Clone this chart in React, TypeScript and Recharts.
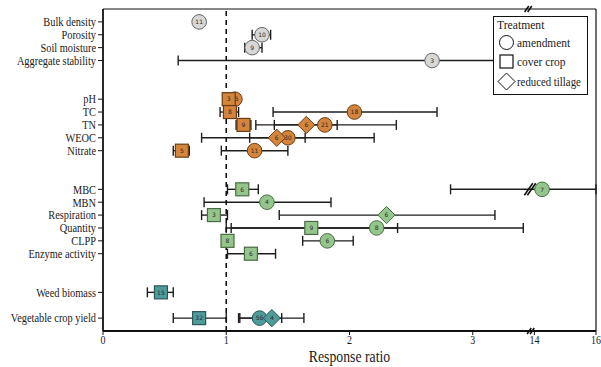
import { ErrorBar, ReferenceDot, ReferenceLine, Scatter, ScatterChart, XAxis, YAxis } from "recharts";

// rows of the forest plot, top to bottom (blank rows between groups)
const ROW_NAMES = [
  "Bulk density", "Porosity", "Soil moisture", "Aggregate stability",
  "pH", "TC", "TN", "WEOC", "Nitrate",
  "MBC", "MBN", "Respiration", "Quantity", "CLPP", "Enzyme activity",
  "Weed biomass", "Vegetable crop yield",
];
const ROW_POS = [0, 1, 2, 3, 6, 7, 8, 9, 10, 13, 14, 15, 16, 17, 18, 21, 23];
const ROW_GROUP = [
  "physical", "physical", "physical", "physical",
  "chemical", "chemical", "chemical", "chemical", "chemical",
  "biological", "biological", "biological", "biological", "biological", "biological",
  "crop", "crop",
];

const GROUP_FILL: Record<string, string> = {
  physical: "#d7d7d7",
  chemical: "#d4843b",
  biological: "#94c68c",
  crop: "#4e9b9a",
};
const GROUP_STROKE: Record<string, string> = {
  physical: "#666",
  chemical: "#6a3e16",
  biological: "#4a6c45",
  crop: "#2a5757",
};

// amendment (circles)
const AMEND_ROWS = ["Bulk density", "Porosity", "Soil moisture", "Aggregate stability", "pH", "TC", "TN", "WEOC", "Nitrate", "MBC", "MBN", "Quantity", "CLPP", "Vegetable crop yield"];
const AMEND_RR = [0.78, 1.29, 1.21, 2.67, 1.07, 2.04, 1.8, 1.5, 1.23, 14.25, 1.33, 2.22, 1.82, 1.27];
const AMEND_LO = [0.77, 1.21, 1.15, 0.61, 1.0, 1.38, 1.24, 0.8, 0.96, 2.82, 0.82, 1.04, 1.62, 1.1];
const AMEND_HI = [0.79, 1.36, 1.29, 3.3, 1.1, 2.71, 2.38, 2.2, 1.5, 16, 1.85, 3.41, 2.03, 1.45];
const AMEND_N = [11, 10, 9, 3, 35, 18, 21, 30, 11, 7, 4, 8, 6, 56];

// cover crop (squares)
const COVER_ROWS = ["pH", "TC", "TN", "Nitrate", "MBC", "Respiration", "Quantity", "CLPP", "Enzyme activity", "Weed biomass", "Vegetable crop yield"];
const COVER_RR = [1.02, 1.03, 1.14, 0.64, 1.13, 0.9, 1.69, 1.01, 1.2, 0.47, 0.78];
const COVER_LO = [0.99, 0.95, 1.08, 0.57, 1.01, 0.8, 1.0, 0.99, 1.01, 0.36, 0.57];
const COVER_HI = [1.05, 1.1, 1.2, 0.7, 1.26, 1.01, 2.39, 1.02, 1.4, 0.57, 1.0];
const COVER_N = [3, 8, 9, 5, 6, 3, 9, 8, 6, 15, 32];

// reduced tillage (diamonds)
const TILL_ROWS = ["TN", "WEOC", "Respiration", "Vegetable crop yield"];
const TILL_RR = [1.65, 1.41, 2.3, 1.37];
const TILL_LO = [1.39, 1.19, 1.43, 1.11];
const TILL_HI = [1.9, 1.64, 3.18, 1.63];
const TILL_N = [6, 6, 6, 4];

const X_TICKS = [0, 1, 2, 3, 3.5, 4];
const X_TICK_LABELS = ["0", "1", "2", "3", "14", "16"];

// broken axis: 0-3 linear, then 12-16 squeezed into the last unit
const toAxis = (v: number) => (v < 10 ? v : 3 + (v - 12) / 4);

type Pt = { x: number; y: number; err: [number, number]; n: number; group: string; kind: string };

function buildPoints(kind: string, rows: string[], rr: number[], lo: number[], hi: number[], n: number[]): Pt[] {
  return rows.map((name, i) => {
    const idx = ROW_NAMES.indexOf(name);
    const x = toAxis(rr[i]);
    return {
      x,
      y: ROW_POS[idx],
      err: [x - toAxis(lo[i]), toAxis(hi[i]) - x],
      n: n[i],
      group: ROW_GROUP[idx],
      kind,
    };
  });
}

const amendPts = buildPoints("circle", AMEND_ROWS, AMEND_RR, AMEND_LO, AMEND_HI, AMEND_N);
const coverPts = buildPoints("square", COVER_ROWS, COVER_RR, COVER_LO, COVER_HI, COVER_N);
const tillPts = buildPoints("diamond", TILL_ROWS, TILL_RR, TILL_LO, TILL_HI, TILL_N);
const allPts = [...amendPts, ...coverPts, ...tillPts];

const SERIF = "Liberation Serif";

function Marker(props: any) {
  const { cx, cy, payload } = props;
  const fill = GROUP_FILL[payload.group];
  const stroke = GROUP_STROKE[payload.group];
  let mark;
  if (payload.kind === "circle") {
    mark = <circle cx={cx} cy={cy} r={7.3} fill={fill} stroke={stroke} strokeWidth={1} />;
  } else if (payload.kind === "square") {
    mark = <rect x={cx - 6.5} y={cy - 6.5} width={13} height={13} fill={fill} stroke={stroke} strokeWidth={1.2} />;
  } else {
    const d = 8.6;
    mark = (
      <polygon
        points={`${cx},${cy - d} ${cx + d},${cy} ${cx},${cy + d} ${cx - d},${cy}`}
        fill={fill}
        stroke={stroke}
        strokeWidth={1}
      />
    );
  }
  return (
    <g>
      {mark}
      <text x={cx} y={cy + 2.2} textAnchor="middle" fontSize={6} fontFamily="DejaVu Sans" fill="#2a2a2a">
        {payload.n}
      </text>
    </g>
  );
}

const BreakMark = (h: number) => (props: any) => {
  const { cx, cy } = props;
  const s = h * 0.35;
  return (
    <g>
      <line x1={cx - 1.5 - s} y1={cy + h / 2} x2={cx - 1.5 + s} y2={cy - h / 2} stroke="#111" strokeWidth={1.6} />
      <line x1={cx + 1.5 - s} y1={cy + h / 2} x2={cx + 1.5 + s} y2={cy - h / 2} stroke="#111" strokeWidth={1.6} />
    </g>
  );
};

const rowLabel: Record<number, string> = {};
ROW_POS.forEach((p, i) => (rowLabel[p] = ROW_NAMES[i]));

const YTick = ({ x, y, payload }: any) => (
  <text
    transform={`translate(${x},${y + 4.3}) scale(0.83,1)`}
    textAnchor="end"
    fontFamily={SERIF}
    fontSize={12.5}
    fill="#1a1a1a"
  >
    {rowLabel[payload.value]}
  </text>
);

const XTick = ({ x, y, payload }: any) => (
  <text
    transform={`translate(${x},${y + 7}) scale(0.8,1)`}
    textAnchor="middle"
    fontFamily={SERIF}
    fontSize={12.5}
    fill="#1a1a1a"
  >
    {X_TICK_LABELS[X_TICKS.indexOf(payload.value)]}
  </text>
);

function LegendBox() {
  return (
    <div
      style={{
        position: "absolute",
        left: 493,
        top: 16,
        width: 95,
        height: 79,
        boxSizing: "border-box",
        border: "1.5px solid #111",
        background: "#fff",
      }}
    >
      <svg width={92} height={76} style={{ display: "block" }}>
        <g fontFamily={SERIF} fontSize={12} fill="#1a1a1a">
          <text transform="translate(3,11.5) scale(0.97,1)">Treatment</text>
          <circle cx={12.5} cy={25.5} r={7} fill="#fff" stroke="#111" strokeWidth={1} />
          <text transform="translate(23,29.5) scale(0.95,1)">amendment</text>
          <rect x={6} y={38} width={13} height={13} fill="#fff" stroke="#111" strokeWidth={1.2} />
          <text transform="translate(23,48.5) scale(0.95,1)">cover crop</text>
          <polygon points="12.5,56 21,64.5 12.5,73 4,64.5" fill="#fff" stroke="#111" strokeWidth={1} />
          <text transform="translate(23,68.5) scale(0.9,1)">reduced tillage</text>
        </g>
      </svg>
    </div>
  );
}

export default function App() {
  return (
    <div style={{ position: "fixed", left: 0, top: 0, width: 601, height: 367, background: "#fff" }}>
      <ScatterChart width={601} height={367} margin={{ top: 9, right: 5, bottom: 0, left: 0 }}>
        <XAxis
          type="number"
          dataKey="x"
          domain={[0, 4]}
          ticks={X_TICKS}
          interval={0}
          tick={<XTick />}
          tickSize={4}
          height={36}
          stroke="#111"
          axisLine={{ stroke: "#111", strokeWidth: 1.8 }}
          tickLine={{ stroke: "#111", strokeWidth: 1 }}
          label={{
            content: ({ viewBox }: any) => (
              <text
                transform={`translate(${viewBox.x + viewBox.width / 2},${viewBox.y + 31}) scale(0.86,1)`}
                textAnchor="middle"
                fontFamily={SERIF}
                fontSize={16}
                fill="#1a1a1a"
              >
                Response ratio
              </text>
            ),
          }}
        />
        <YAxis
          type="number"
          dataKey="y"
          domain={[-1, 24]}
          reversed
          ticks={ROW_POS}
          interval={0}
          tick={<YTick />}
          tickSize={5}
          width={103}
          stroke="#111"
          axisLine={{ stroke: "#111", strokeWidth: 1.8 }}
          tickLine={{ stroke: "#111", strokeWidth: 1 }}
        />
        <ReferenceLine y={-1} stroke="#111" strokeWidth={1.2} />
        <ReferenceLine x={4} stroke="#111" strokeWidth={1.2} />
        <Scatter data={allPts} shape={() => <g />} isAnimationActive={false} legendType="none">
          <ErrorBar dataKey="err" direction="x" width={5} stroke="#1e1e1e" strokeWidth={1.4} />
        </Scatter>
        <ReferenceDot x={3.465} y={13} r={0} shape={BreakMark(12)} ifOverflow="visible" />
        <Scatter data={amendPts} shape={<Marker />} isAnimationActive={false} />
        <Scatter data={coverPts} shape={<Marker />} isAnimationActive={false} />
        <Scatter data={tillPts} shape={<Marker />} isAnimationActive={false} />
        <ReferenceLine x={1} stroke="#111" strokeWidth={1.6} strokeDasharray="5 4" />
        <ReferenceDot x={3.45} y={-1} r={0} shape={BreakMark(6)} ifOverflow="visible" />
        <ReferenceDot x={3.47} y={24} r={0} shape={BreakMark(6)} ifOverflow="visible" />
      </ScatterChart>
      <LegendBox />
    </div>
  );
}
